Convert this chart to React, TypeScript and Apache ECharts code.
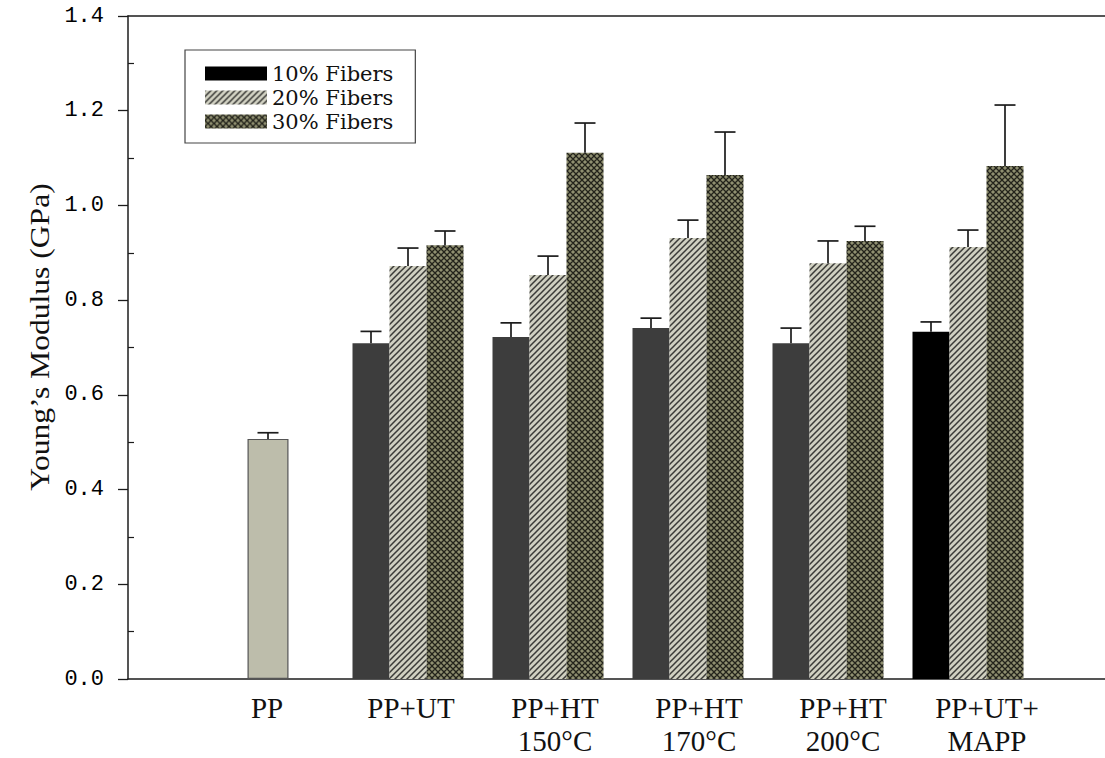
import React, { useEffect, useRef } from "react";
import * as echarts from "echarts";

// ---- data ----
const categories = ["PP", "PP+UT", "PP+HT\n150°C", "PP+HT\n170°C", "PP+HT\n200°C", "PP+UT+\nMAPP"];
const seriesNames = ["10% Fibers", "20% Fibers", "30% Fibers"];
const ppValue = [0.507, null, null, null, null, null];
const ppErr = [0.013, null, null, null, null, null];
const fib10 = [null, 0.709, 0.722, 0.741, 0.709, 0.733];
const err10 = [null, 0.025, 0.030, 0.021, 0.032, 0.021];
const fib20 = [null, 0.872, 0.853, 0.931, 0.878, 0.912];
const err20 = [null, 0.038, 0.040, 0.038, 0.047, 0.036];
const fib30 = [null, 0.916, 1.111, 1.064, 0.925, 1.083];
const err30 = [null, 0.030, 0.063, 0.091, 0.031, 0.129];
const yMin = 0;
const yMax = 1.4;
const yStep = 0.2;

const BAR_W = 37;
const PP_W = 41;
const CAP = 21;
const INK = "#1c1c1c";
const TOP = 16;
const BOTTOM = 79;
const PLOT_H = 758 - TOP - BOTTOM;

function makeStripe(): HTMLCanvasElement {
  const c = document.createElement("canvas");
  c.width = 6;
  c.height = 6;
  const g = c.getContext("2d")!;
  g.fillStyle = "#d0d0c1";
  g.fillRect(0, 0, 6, 6);
  g.strokeStyle = "#3b3b38";
  g.lineWidth = 1.5;
  g.beginPath();
  g.moveTo(-1, 7); g.lineTo(7, -1);
  g.moveTo(-4, 4); g.lineTo(4, -4);
  g.moveTo(2, 10); g.lineTo(10, 2);
  g.stroke();
  return c;
}

function makeCross(): HTMLCanvasElement {
  const c = document.createElement("canvas");
  c.width = 6;
  c.height = 6;
  const g = c.getContext("2d")!;
  g.fillStyle = "#8f8f70";
  g.fillRect(0, 0, 6, 6);
  g.strokeStyle = "#23231b";
  g.lineWidth = 1.3;
  g.beginPath();
  g.moveTo(-1, 7); g.lineTo(7, -1);
  g.moveTo(-4, 4); g.lineTo(4, -4);
  g.moveTo(2, 10); g.lineTo(10, 2);
  g.moveTo(-1, -1); g.lineTo(7, 7);
  g.moveTo(-4, 2); g.lineTo(4, 10);
  g.moveTo(2, -4); g.lineTo(10, 4);
  g.stroke();
  return c;
}

export default function App() {
  const ref = useRef<HTMLDivElement>(null);
  useEffect(() => {
    if (!ref.current) return;
    const chart = echarts.init(ref.current, undefined, { renderer: "svg" });
    const stripe = { image: makeStripe(), repeat: "repeat" };
    const cross = { image: makeCross(), repeat: "repeat" };

    const errData: number[][] = [];
    ppValue.forEach((v, i) => {
      if (v != null) errData.push([i, v, v + (ppErr[i] as number), 0]);
    });
    [[fib10, err10], [fib20, err20], [fib30, err30]].forEach(([vals, errs], s) => {
      vals.forEach((v, i) => {
        if (v != null) errData.push([i, v as number, (v as number) + (errs[i] as number), s - 1]);
      });
    });

    const common = { top: TOP, bottom: BOTTOM };
    // half-step shifted grid for the inward minor ticks
    const halfPx = (PLOT_H / (yMax - yMin)) * (yStep / 2);
    const hiddenY = (gridIndex: number) => ({
      gridIndex, type: "value", min: yMin, max: yMax, interval: yStep, show: false,
    });

    const option: any = {
      animation: false,
      backgroundColor: "#ffffff",
      grid: [
        { left: 128, right: 0, ...common },
        { left: 198, right: 67, ...common },
        { left: 195, right: 46, ...common },
        { left: 128, right: 0, top: TOP + halfPx, bottom: BOTTOM + halfPx },
      ],
      legend: {
        data: seriesNames,
        orient: "vertical",
        left: 185,
        top: 50,
        icon: "rect",
        itemWidth: 62,
        itemHeight: 14,
        itemGap: 3,
        padding: [13, 22, 11, 20],
        borderColor: "#444",
        borderWidth: 1.2,
        textStyle: { fontFamily: "DejaVu Serif", fontSize: 21, color: "#111" },
      },
      xAxis: [
        {
          gridIndex: 0, type: "value", min: 0, max: 1, position: "bottom",
          axisLine: { show: true, lineStyle: { color: INK, width: 1.5 } },
          axisTick: { show: false }, axisLabel: { show: false }, splitLine: { show: false },
        },
        {
          gridIndex: 0, type: "value", min: 0, max: 1, position: "top",
          axisLine: { show: true, lineStyle: { color: INK, width: 1.5 } },
          axisTick: { show: false }, axisLabel: { show: false }, splitLine: { show: false },
        },
        { gridIndex: 1, type: "category", data: categories, show: false },
        { gridIndex: 1, type: "category", data: categories, show: false },
        {
          gridIndex: 2, type: "category", data: categories,
          axisLine: { show: false }, axisTick: { show: false },
          axisLabel: {
            interval: 0, margin: 12, fontFamily: "Liberation Serif", fontSize: 29,
            lineHeight: 33, color: "#111",
          },
        },
        { gridIndex: 3, type: "value", min: 0, max: 1, show: false },
      ],
      yAxis: [
        {
          gridIndex: 0, type: "value", min: yMin, max: yMax, interval: yStep,
          axisLine: { show: true, lineStyle: { color: INK, width: 1.5 } },
          axisTick: { show: true, length: 10, lineStyle: { color: INK, width: 1.3 } },
          axisLabel: {
            margin: 24, fontFamily: "Liberation Mono", fontSize: 22, color: "#000",
            formatter: (v: number) => v.toFixed(1),
          },
          splitLine: { show: false },
        },
        hiddenY(1),
        hiddenY(2),
        {
          gridIndex: 3, type: "value", min: yMin + yStep / 2, max: yMax - yStep / 2, interval: yStep,
          axisLine: { show: false }, axisLabel: { show: false },
          axisTick: { show: true, inside: true, length: 6, lineStyle: { color: INK, width: 1.2 } },
          splitLine: { show: false },
        },
      ],
      graphic: [
        {
          type: "text",
          x: 40,
          y: 337,
          rotation: Math.PI / 2,
          scaleX: 1.17,
          style: {
            text: "Young’s Modulus (GPa)",
            fontFamily: "Liberation Serif",
            fontSize: 27,
            fill: "#111",
            textAlign: "center",
            textVerticalAlign: "middle",
          },
        },
      ],
      series: [
        {
          name: "PP",
          type: "bar",
          xAxisIndex: 3,
          yAxisIndex: 1,
          barWidth: PP_W,
          data: ppValue.map((v) => (v == null ? "-" : v)),
          itemStyle: { color: "#bdbdab", borderColor: "#555", borderWidth: 1.2 },
        },
        {
          name: seriesNames[0],
          type: "bar",
          xAxisIndex: 2,
          yAxisIndex: 1,
          barWidth: BAR_W,
          barGap: "0%",
          itemStyle: { color: "#000000" },
          data: fib10.map((v, i) =>
            v == null ? "-" : { value: v, itemStyle: { color: i === categories.length - 1 ? "#000000" : "#3d3d3d" } }
          ),
        },
        {
          name: seriesNames[1],
          type: "bar",
          xAxisIndex: 2,
          yAxisIndex: 1,
          barWidth: BAR_W,
          barGap: "0%",
          itemStyle: { color: stripe },
          data: fib20.map((v) => (v == null ? "-" : v)),
        },
        {
          name: seriesNames[2],
          type: "bar",
          xAxisIndex: 2,
          yAxisIndex: 1,
          barWidth: BAR_W,
          barGap: "0%",
          itemStyle: { color: cross },
          data: fib30.map((v) => (v == null ? "-" : v)),
        },
        {
          name: "err",
          type: "custom",
          xAxisIndex: 2,
          yAxisIndex: 1,
          z: 10,
          data: errData,
          renderItem: (params: any, api: any) => {
            const cat = api.value(0);
            const p0 = api.coord([cat, api.value(1)]);
            const p1 = api.coord([cat, api.value(2)]);
            const x = p0[0] + api.value(3) * BAR_W;
            const st = { stroke: INK, lineWidth: 1.7 };
            return {
              type: "group",
              children: [
                { type: "line", shape: { x1: x, y1: p0[1], x2: x, y2: p1[1] }, style: st },
                { type: "line", shape: { x1: x - CAP / 2, y1: p1[1], x2: x + CAP / 2, y2: p1[1] }, style: st },
              ],
            };
          },
        },
      ],
    };
    chart.setOption(option);
    return () => chart.dispose();
  }, []);
  return (
    <div
      ref={ref}
      style={{ position: "absolute", left: 0, top: 0, width: 1105, height: 758, background: "#fff" }}
    />
  );
}
